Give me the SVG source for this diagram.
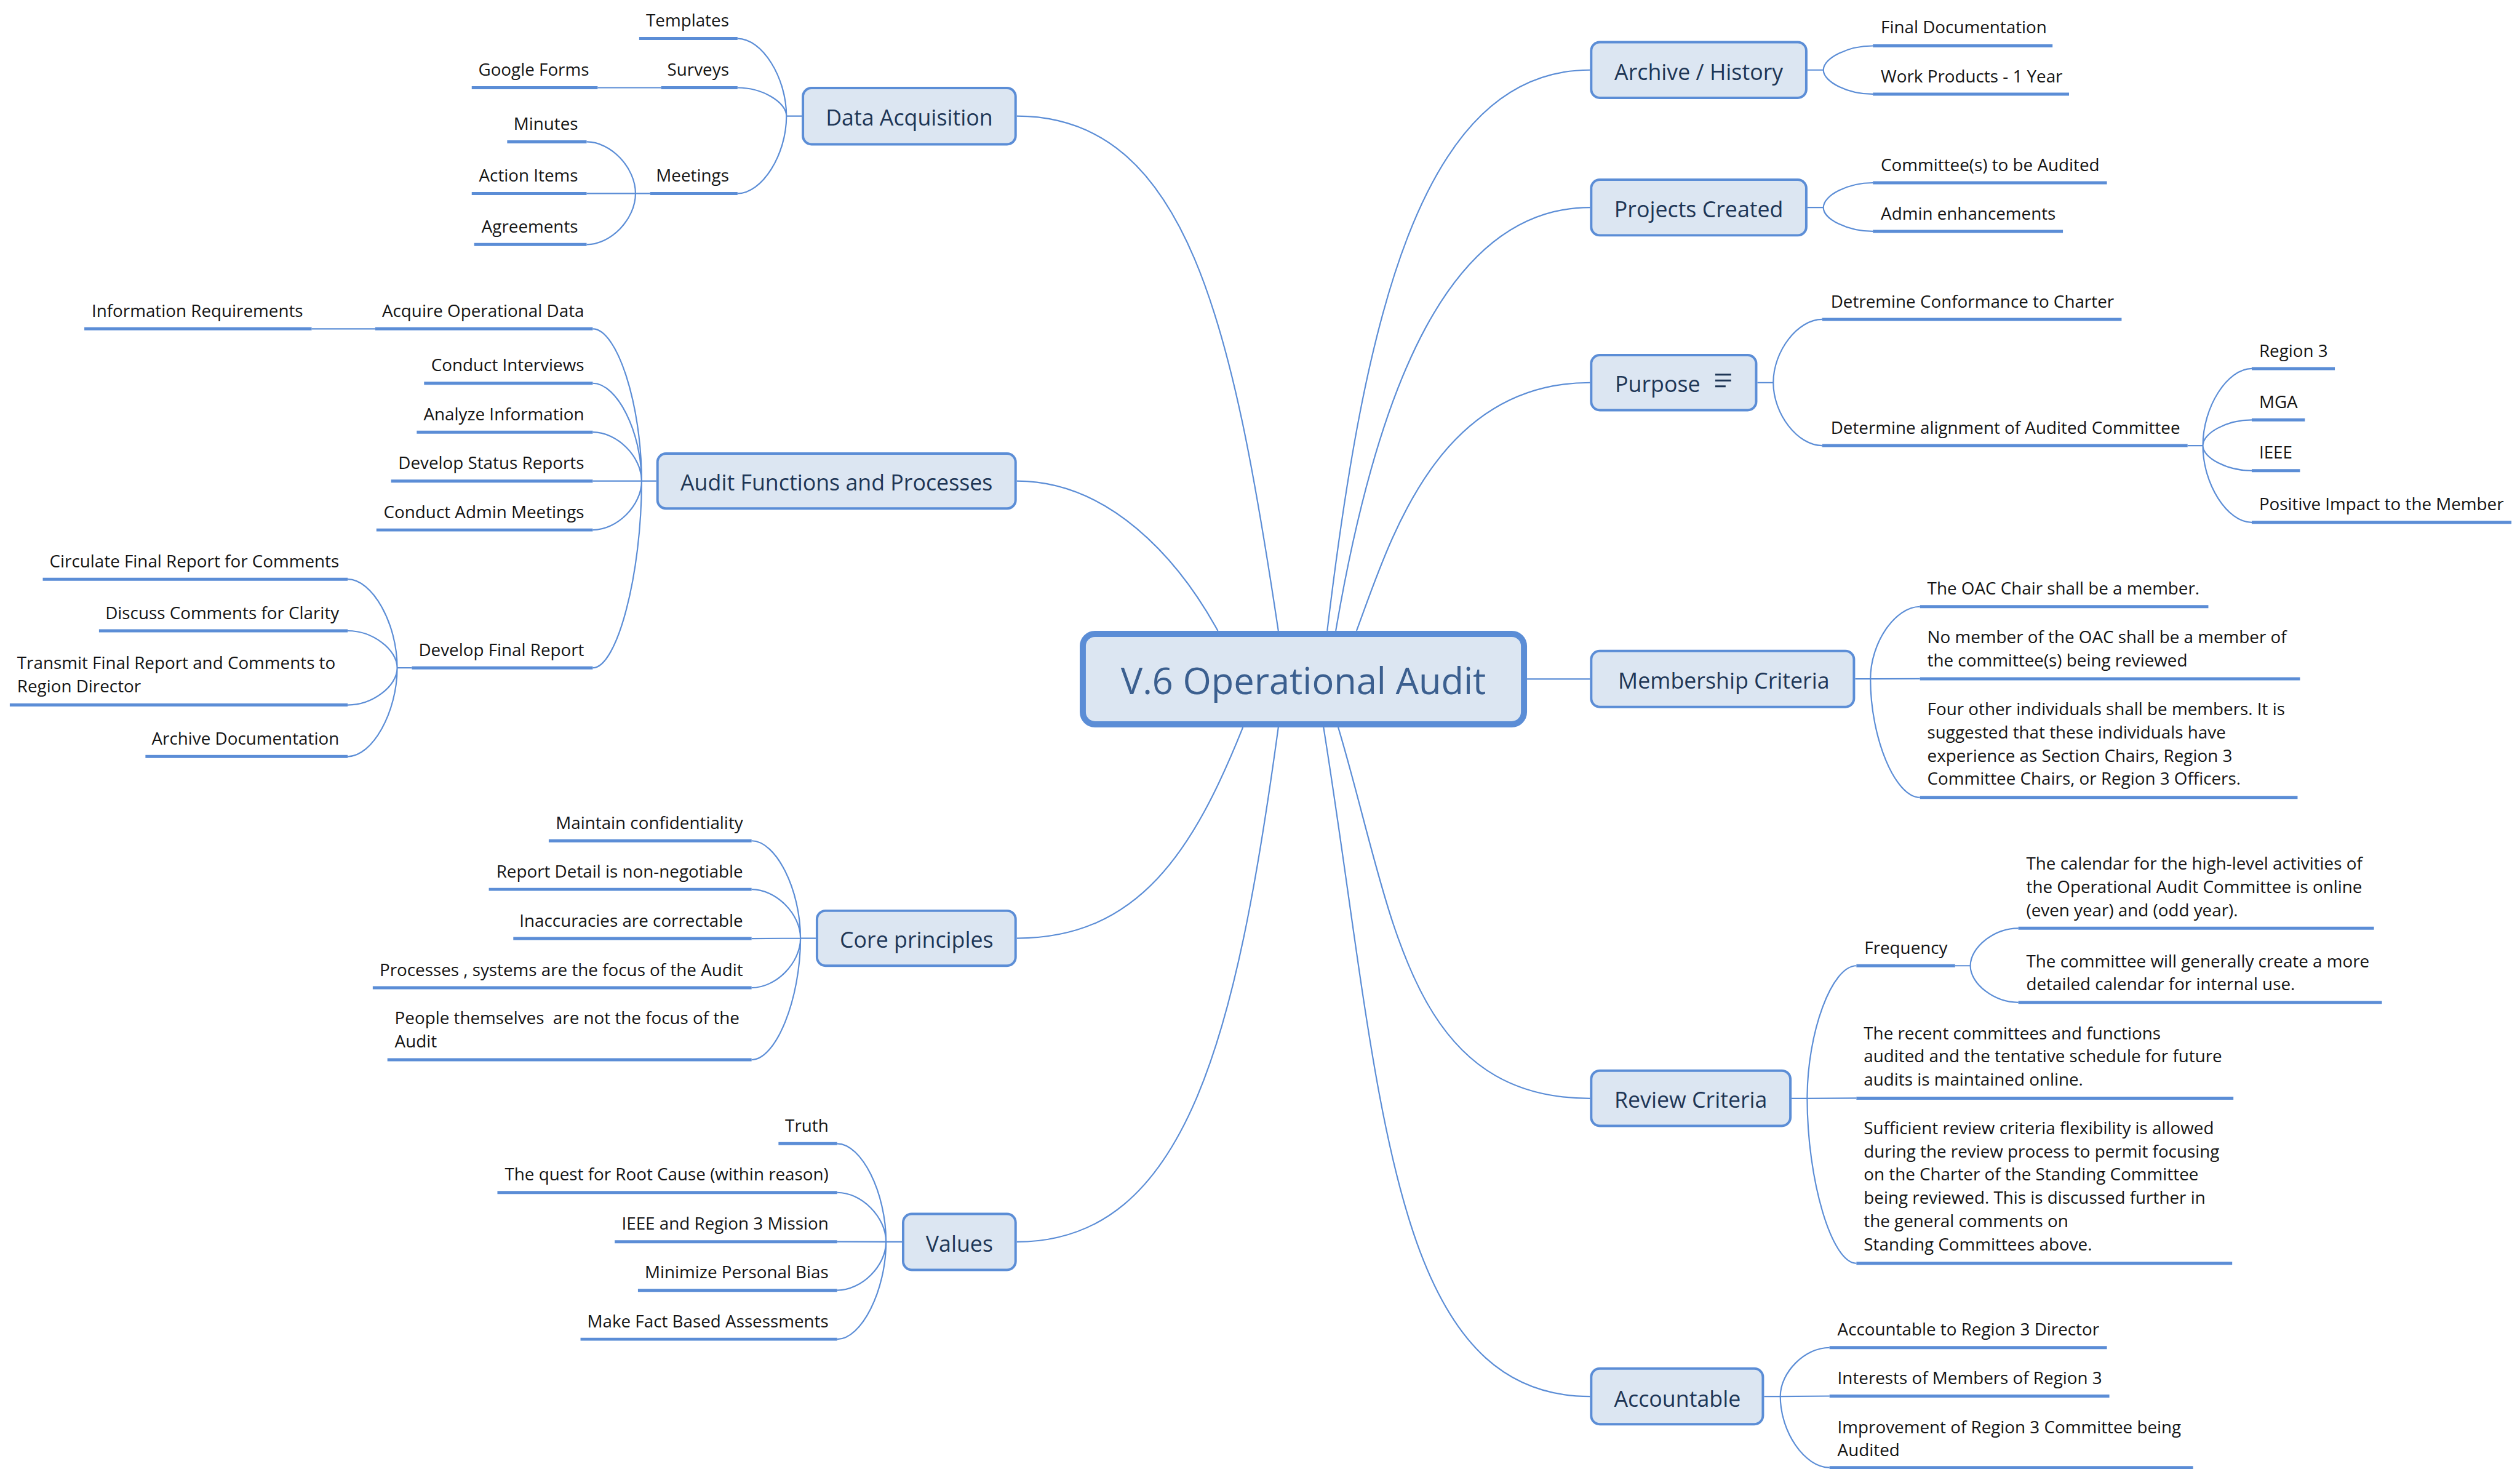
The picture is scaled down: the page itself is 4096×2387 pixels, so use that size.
<svg xmlns="http://www.w3.org/2000/svg" width="4096" height="2387" viewBox="0 0 4096 2387">
<style>
.bg{fill:#ffffff}
.ln{fill:none;stroke:#5B8DD6;stroke-width:2.2}
.ul{fill:none;stroke:#5B8DD6;stroke-width:5}
.sub{fill:#DCE6F2;stroke:#5B8DD6;stroke-width:4}
.root{fill:#DCE6F2;stroke:#5B8DD6;stroke-width:10}
text{font-family:"Open Sans","Noto Sans","Liberation Sans",sans-serif;transform:translate(0px,2.5px)}
.t{font-size:28px;fill:#141414}
.te{font-size:28px;fill:#141414;text-anchor:end}
.ts{font-size:36px;fill:#1E3656;text-anchor:middle}
.tr{font-size:60px;fill:#3B5F8F;text-anchor:middle}
.ic{fill:none;stroke:#1E3656;stroke-width:3}
</style>
<rect class="bg" x="0" y="0" width="4096" height="2387"/>
<g transform="scale(0.99321)">
<g id="connectors">
<path class="ln" d="M1664 190 C1944 190 2017 532 2092 1032"/>
<path class="ln" d="M1664 787 C1814 787 1927 912 1993 1032"/>
<path class="ln" d="M1664 1535 C1864 1535 1954 1390 2034 1190"/>
<path class="ln" d="M1664 2031.7 C1944 2031.7 2023.5 1690 2092 1190"/>
<path class="ln" d="M2602 114.5 C2322 114.5 2232 532 2172 1032"/>
<path class="ln" d="M2602 339.5 C2372 339.5 2254 632 2186 1032"/>
<path class="ln" d="M2602 626 C2352 626 2275.5 882 2220 1032"/>
<path class="ln" d="M2499 1111 H2602"/>
<path class="ln" d="M2602 1797 C2302 1797 2280 1490 2190 1190"/>
<path class="ln" d="M2602 2284.6 C2272 2284.6 2262 1790 2166 1190"/>
<path class="ln" d="M2958 114.5 H2984 M2984 114.5 C2984 94.75 3024.5 75 3065 75 M2984 114.5 C2984 134.25 3024.5 154 3065 154"/>
<path class="ln" d="M2958 339.5 H2984 M2984 339.5 C2984 319.25 3024.5 299 3065 299 M2984 339.5 C2984 359 3024.5 378.5 3065 378.5"/>
<path class="ln" d="M2876 626 H2902 M2902 626 C2902 574.25 2942 522.5 2982 522.5 M2902 626 C2902 677.5 2942 729 2982 729"/>
<path class="ln" d="M3580 729 H3605 M3605 729 C3605 666 3645 603 3685 603 M3605 729 C3605 708 3645 687 3685 687 M3605 729 C3605 749.5 3645 770 3685 770 M3605 729 C3605 791.8 3645 854.6 3685 854.6"/>
<path class="ln" d="M3036 1110.7 H3061 M3061 1110.7 C3061 1051.6 3101.5 992.5 3142 992.5 M3061 1110.7 L3142 1110.5 M3061 1110.7 C3061 1207.65 3101.5 1304.6 3142 1304.6"/>
<path class="ln" d="M2932 1797 H2957.5 M2957.5 1797 C2957.5 1688.5 2997.75 1580 3038 1580 M2957.5 1797 L3038 1796.6 M2957.5 1797 C2957.5 1931.9 2997.75 2066.8 3038 2066.8"/>
<path class="ln" d="M3199.5 1580 H3224.5 M3224.5 1580 C3224.5 1549.3 3263.75 1518.6 3303 1518.6 M3224.5 1580 C3224.5 1610 3263.75 1640 3303 1640"/>
<path class="ln" d="M2887 2284.6 H2913.5 M2913.5 2284.6 C2913.5 2244.85 2953.75 2204.7 2994 2204.7 M2913.5 2284.6 L2994 2284 M2913.5 2284.6 C2913.5 2343 2953.75 2401 2994 2401"/>
<path class="ln" d="M1312 190 H1287 M1287 190 C1287 126.5 1247 63 1207 63 M1287 190 C1287 166.75 1247 143.5 1207 143.5 M1287 190 C1287 253.3 1247 316.6 1207 316.6"/>
<path class="ln" d="M978 143.5 H1082"/>
<path class="ln" d="M1064 316.6 H1040 M1040 316.6 C1040 274.3 1000 232 960 232 M1040 316.6 L960 316.6 M1040 316.6 C1040 358.3 1000 400 960 400"/>
<path class="ln" d="M1074 787 H1050 M1050 787 C1050 662.5 1010 538 970 538 M1050 787 C1050 707 1010 627 970 627 M1050 787 C1050 747 1010 707 970 707 M1050 787 L970 787 M1050 787 C1050 827 1010 867 970 867 M1050 787 C1050 939.8 1010 1092.6 970 1092.6"/>
<path class="ln" d="M510 538 H614"/>
<path class="ln" d="M674 1092.6 H650 M650 1092.6 C650 1020.1 609.5 947.6 569 947.6 M650 1092.6 C650 1062.3 609.5 1032 569 1032 M650 1092.6 C650 1123 609.5 1153.4 569 1153.4 M650 1092.6 C650 1165.15 609.5 1237.7 569 1237.7"/>
<path class="ln" d="M1335 1535 H1310 M1310 1535 C1310 1455.3 1270 1375.6 1230 1375.6 M1310 1535 C1310 1495 1270 1455 1230 1455 M1310 1535 L1230 1535.5 M1310 1535 C1310 1575.5 1270 1616 1230 1616 M1310 1535 C1310 1634.4 1270 1733.8 1230 1733.8"/>
<path class="ln" d="M1476 2031.7 H1450 M1450 2031.7 C1450 1951 1410 1871 1370 1871 M1450 2031.7 C1450 1991 1410 1951 1370 1951 M1450 2031.7 L1370 2031.5 M1450 2031.7 C1450 2071 1410 2111 1370 2111 M1450 2031.7 C1450 2111 1410 2191 1370 2191"/>
</g>

<g id="root">
<rect class="root" x="1772" y="1037" width="722" height="148" rx="20"/>
<text class="tr" x="2133" y="1133">V.6 Operational Audit</text>
</g>

<g id="data-acquisition">
<rect class="sub" x="1314" y="144" width="348" height="92" rx="14"/>
<text class="ts" x="1488" y="203">Data Acquisition</text>
</g>
<g id="templates"><path class="ul" d="M1046 63 H1207"/><text class="te" x="1193" y="41">Templates</text></g>
<g id="surveys"><path class="ul" d="M1082 143.5 H1207"/><text class="te" x="1193" y="121.5">Surveys</text></g>
<g id="google-forms"><path class="ul" d="M772 143.5 H978"/><text class="te" x="964" y="121.5">Google Forms</text></g>
<g id="meetings"><path class="ul" d="M1064 316.6 H1207"/><text class="te" x="1193" y="294.6">Meetings</text></g>
<g id="minutes"><path class="ul" d="M830 232 H960"/><text class="te" x="946" y="210">Minutes</text></g>
<g id="action-items"><path class="ul" d="M772 316.6 H960"/><text class="te" x="946" y="294.6">Action Items</text></g>
<g id="agreements"><path class="ul" d="M776 400 H960"/><text class="te" x="946" y="378">Agreements</text></g>

<g id="audit-functions">
<rect class="sub" x="1076" y="742" width="586" height="90" rx="14"/>
<text class="ts" x="1369" y="800">Audit Functions and Processes</text>
</g>
<g id="acquire-data"><path class="ul" d="M614 538 H970"/><text class="te" x="956" y="516">Acquire Operational Data</text></g>
<g id="information-requirements"><path class="ul" d="M138 538 H510"/><text class="te" x="496" y="516">Information Requirements</text></g>
<g id="conduct-interviews"><path class="ul" d="M694 627 H970"/><text class="te" x="956" y="605">Conduct Interviews</text></g>
<g id="analyze-information"><path class="ul" d="M682 707 H970"/><text class="te" x="956" y="685">Analyze Information</text></g>
<g id="status-reports"><path class="ul" d="M640 787 H970"/><text class="te" x="956" y="765">Develop Status Reports</text></g>
<g id="admin-meetings"><path class="ul" d="M616 867 H970"/><text class="te" x="956" y="845">Conduct Admin Meetings</text></g>
<g id="final-report"><path class="ul" d="M674 1092.6 H970"/><text class="te" x="956" y="1070.6">Develop Final Report</text></g>
<g id="circulate"><path class="ul" d="M70 947.6 H569"/><text class="te" x="555" y="925.6">Circulate Final Report for Comments</text></g>
<g id="discuss"><path class="ul" d="M162 1032 H569"/><text class="te" x="555" y="1010">Discuss Comments for Clarity</text></g>
<g id="transmit"><path class="ul" d="M16 1153.4 H569"/><text class="t" x="28" y="1092.4">Transmit Final Report and Comments to<tspan x="28" dy="38">Region Director</tspan></text></g>
<g id="archive-documentation"><path class="ul" d="M238 1237.7 H569"/><text class="te" x="555" y="1215.7">Archive Documentation</text></g>

<g id="core-principles">
<rect class="sub" x="1337" y="1490" width="325" height="90" rx="14"/>
<text class="ts" x="1500" y="1548">Core principles</text>
</g>
<g id="confidentiality"><path class="ul" d="M898 1375.6 H1230"/><text class="te" x="1216" y="1353.6">Maintain confidentiality</text></g>
<g id="report-detail"><path class="ul" d="M800 1455 H1230"/><text class="te" x="1216" y="1433">Report Detail is non-negotiable</text></g>
<g id="inaccuracies"><path class="ul" d="M840 1535.5 H1230"/><text class="te" x="1216" y="1513.5">Inaccuracies are correctable</text></g>
<g id="processes"><path class="ul" d="M610 1616 H1230"/><text class="te" x="1216" y="1594">Processes , systems are the focus of the Audit</text></g>
<g id="people"><path class="ul" d="M634 1733.8 H1230"/><text class="t" x="646" y="1672.8" xml:space="preserve" style="white-space:pre">People themselves  are not the focus of the<tspan x="646" dy="38">Audit</tspan></text></g>

<g id="values">
<rect class="sub" x="1478" y="1986" width="184" height="91.5" rx="14"/>
<text class="ts" x="1570" y="2045">Values</text>
</g>
<g id="truth"><path class="ul" d="M1274 1871 H1370"/><text class="te" x="1356" y="1849">Truth</text></g>
<g id="root-cause"><path class="ul" d="M814 1951 H1370"/><text class="te" x="1356" y="1929">The quest for Root Cause (within reason)</text></g>
<g id="mission"><path class="ul" d="M1006 2031.5 H1370"/><text class="te" x="1356" y="2009.5">IEEE and Region 3 Mission</text></g>
<g id="bias"><path class="ul" d="M1044 2111 H1370"/><text class="te" x="1356" y="2089">Minimize Personal Bias</text></g>
<g id="fact-based"><path class="ul" d="M950 2191 H1370"/><text class="te" x="1356" y="2169">Make Fact Based Assessments</text></g>

<g id="archive-history">
<rect class="sub" x="2604" y="69" width="352" height="91" rx="14"/>
<text class="ts" x="2780" y="128">Archive / History</text>
</g>
<g id="final-documentation"><path class="ul" d="M3065 75 H3359"/><text class="t" x="3078" y="52">Final Documentation</text></g>
<g id="work-products"><path class="ul" d="M3065 154 H3386"/><text class="t" x="3078" y="132">Work Products - 1 Year</text></g>

<g id="projects-created">
<rect class="sub" x="2604" y="294" width="352" height="91" rx="14"/>
<text class="ts" x="2780" y="353">Projects Created</text>
</g>
<g id="committees-audited"><path class="ul" d="M3065 299 H3448"/><text class="t" x="3078" y="277">Committee(s) to be Audited</text></g>
<g id="admin-enhancements"><path class="ul" d="M3065 378.5 H3376"/><text class="t" x="3078" y="356.5">Admin enhancements</text></g>

<g id="purpose">
<rect class="sub" x="2604" y="581" width="270" height="90" rx="14"/>
<text class="ts" x="2643" y="639" style="text-anchor:start">Purpose</text>
<path class="ic" d="M2807 613 H2833 M2807 622.5 H2833 M2807 632 H2824"/>
</g>
<g id="conformance"><path class="ul" d="M2982 522.5 H3472"/><text class="t" x="2996" y="500.5">Detremine Conformance to Charter</text></g>
<g id="alignment"><path class="ul" d="M2982 729 H3580"/><text class="t" x="2996" y="707">Determine alignment of Audited Committee</text></g>
<g id="region3"><path class="ul" d="M3685 603 H3821"/><text class="t" x="3697" y="581">Region 3</text></g>
<g id="mga"><path class="ul" d="M3685 687 H3772"/><text class="t" x="3697" y="665">MGA</text></g>
<g id="ieee"><path class="ul" d="M3685 770 H3764"/><text class="t" x="3697" y="748">IEEE</text></g>
<g id="positive-impact"><path class="ul" d="M3685 854.6 H4110"/><text class="t" x="3697" y="832.6">Positive Impact to the Member</text></g>

<g id="membership-criteria">
<rect class="sub" x="2604" y="1065" width="430" height="91.5" rx="14"/>
<text class="ts" x="2821" y="1124">Membership Criteria</text>
</g>
<g id="oac-chair"><path class="ul" d="M3142 992.5 H3614"/><text class="t" x="3154" y="970.5">The OAC Chair shall be a member.</text></g>
<g id="no-member"><path class="ul" d="M3142 1110.5 H3764"/><text class="t" x="3154" y="1050">No member of the OAC shall be a member of<tspan x="3154" dy="38">the committee(s) being reviewed</tspan></text></g>
<g id="four-other"><path class="ul" d="M3142 1304.6 H3760"/><text class="t" x="3154" y="1167.6">Four other individuals shall be members. It is<tspan x="3154" dy="38">suggested that these individuals have</tspan><tspan x="3154" dy="38">experience as Section Chairs, Region 3</tspan><tspan x="3154" dy="38">Committee Chairs, or Region 3 Officers.</tspan></text></g>

<g id="review-criteria">
<rect class="sub" x="2604" y="1751.6" width="326" height="90.4" rx="14"/>
<text class="ts" x="2767" y="1810">Review Criteria</text>
</g>
<g id="frequency"><path class="ul" d="M3038 1580 H3199.5"/><text class="t" x="3051" y="1558">Frequency</text></g>
<g id="calendar"><path class="ul" d="M3303 1518.6 H3885"/><text class="t" x="3316" y="1420.6">The calendar for the high-level activities of<tspan x="3316" dy="38">the Operational Audit Committee is online</tspan><tspan x="3316" dy="38">(even year) and (odd year).</tspan></text></g>
<g id="internal-calendar"><path class="ul" d="M3303 1640 H3898"/><text class="t" x="3316" y="1580">The committee will generally create a more<tspan x="3316" dy="38">detailed calendar for internal use.</tspan></text></g>
<g id="recent-committees"><path class="ul" d="M3038 1796.6 H3655"/><text class="t" x="3050" y="1697.6">The recent committees and functions<tspan x="3050" dy="38">audited and the tentative schedule for future</tspan><tspan x="3050" dy="38">audits is maintained online.</tspan></text></g>
<g id="flexibility"><path class="ul" d="M3038 2066.8 H3653"/><text class="t" x="3050" y="1853">Sufficient review criteria flexibility is allowed<tspan x="3050" dy="38">during the review process to permit focusing</tspan><tspan x="3050" dy="38">on the Charter of the Standing Committee</tspan><tspan x="3050" dy="38">being reviewed. This is discussed further in</tspan><tspan x="3050" dy="38">the general comments on</tspan><tspan x="3050" dy="38">Standing Committees above.</tspan></text></g>

<g id="accountable">
<rect class="sub" x="2604" y="2239" width="281" height="91" rx="14"/>
<text class="ts" x="2745" y="2299">Accountable</text>
</g>
<g id="director"><path class="ul" d="M2994 2204.7 H3448"/><text class="t" x="3007" y="2182.7">Accountable to Region 3 Director</text></g>
<g id="interests"><path class="ul" d="M2994 2284 H3452"/><text class="t" x="3007" y="2262">Interests of Members of Region 3</text></g>
<g id="improvement"><path class="ul" d="M2994 2401 H3589"/><text class="t" x="3007" y="2342">Improvement of Region 3 Committee being<tspan x="3007" dy="38">Audited</tspan></text></g>
</g>
</svg>
